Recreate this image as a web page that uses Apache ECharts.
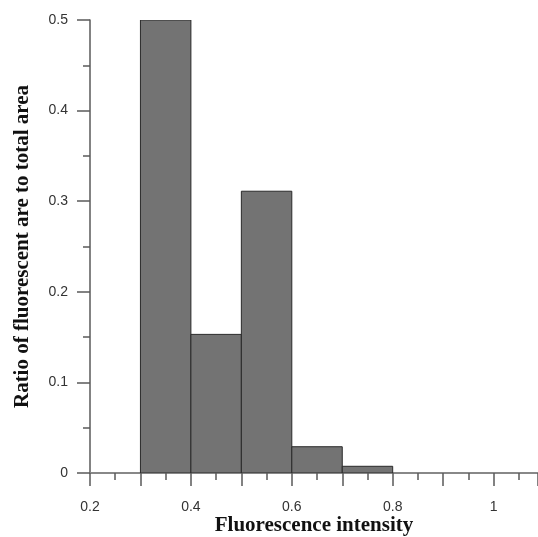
<!DOCTYPE html>
<html>
<head>
<meta charset="utf-8">
<script src="https://cdn.jsdelivr.net/npm/echarts@6/dist/echarts.min.js"></script>
<style>
  html, body { margin: 0; padding: 0; background: #fff; }
  #main { width: 538px; height: 537px; }
</style>
</head>
<body>
<div id="main"></div>
<script>
// histogram bins (start, end) and ratio values
var binStart = [0.3, 0.4, 0.5, 0.6, 0.7];
var binEnd = [0.4, 0.5, 0.6, 0.7, 0.8];
var ratios = [0.5, 0.153, 0.311, 0.029, 0.0074];

var chart = echarts.init(document.getElementById("main"));

var data = binStart.map(function (s, i) {
  return [s, binEnd[i], ratios[i]];
});

var axisColor = "#5a5a5a";
var labelColor = "#333";

var option = {
  animation: false,
  grid: { left: 90, right: 0, top: 20, bottom: 64, outerBoundsMode: "none", containLabel: false },
  xAxis: [
    {
      type: "value",
      min: 0.2,
      max: 1.088,
      interval: 0.1,
      name: "Fluorescence intensity",
      nameLocation: "middle",
      nameGap: 42,
      nameMoveOverlap: false,
      nameTextStyle: { fontFamily: "Liberation Serif", fontWeight: "bold", fontSize: 21, color: "#111" },
      axisLine: { show: true, onZero: false, lineStyle: { color: axisColor, width: 1.5 } },
      axisTick: { show: true, inside: false, length: 13, lineStyle: { color: axisColor, width: 1.5 } },
      minorTick: { show: true, splitNumber: 2, length: 7, lineStyle: { color: axisColor, width: 1.5 } },
      axisLabel: {
        margin: 27,
        fontFamily: "Liberation Sans",
        fontSize: 14,
        color: labelColor,
        formatter: function (v) {
          var k = Math.round(v * 10);
          if (Math.abs(v * 10 - k) > 1e-6 || k % 2 !== 0) return "";
          return String(k / 10);
        }
      },
      splitLine: { show: false }
    },
    {
      type: "value",
      position: "top",
      min: 0.2,
      max: 1.088,
      axisLine: { show: true, lineStyle: { color: "#888", width: 2 } },
      axisTick: { show: false },
      axisLabel: { show: false },
      splitLine: { show: false }
    }
  ],
  yAxis: {
    type: "value",
    min: 0,
    max: 0.5,
    interval: 0.1,
    name: "Ratio of fluorescent are to total area",
    nameLocation: "middle",
    nameGap: 57,
    nameMoveOverlap: false,
    nameTextStyle: { fontFamily: "Liberation Serif", fontWeight: "bold", fontSize: 21, color: "#111" },
    axisLine: { show: true, lineStyle: { color: axisColor, width: 1.5 } },
    axisTick: { show: true, inside: false, length: 13, lineStyle: { color: axisColor, width: 1.5 } },
    minorTick: { show: true, splitNumber: 2, length: 7, lineStyle: { color: axisColor, width: 1.5 } },
    axisLabel: {
      margin: 22,
      fontFamily: "Liberation Sans",
      fontSize: 14,
      color: labelColor
    },
    splitLine: { show: false }
  },
  series: [
    {
      type: "custom",
      xAxisIndex: 0,
      clip: true,
      encode: { x: [0, 1], y: 2 },
      data: data,
      renderItem: function (params, api) {
        var p0 = api.coord([api.value(0), api.value(2)]);
        var p1 = api.coord([api.value(1), 0]);
        return {
          type: "rect",
          shape: { x: p0[0], y: p0[1], width: p1[0] - p0[0], height: p1[1] - p0[1] },
          style: { fill: "#737373", stroke: "#2a2a2a", lineWidth: 1 }
        };
      }
    }
  ]
};

chart.setOption(option);
</script>
</body>
</html>
